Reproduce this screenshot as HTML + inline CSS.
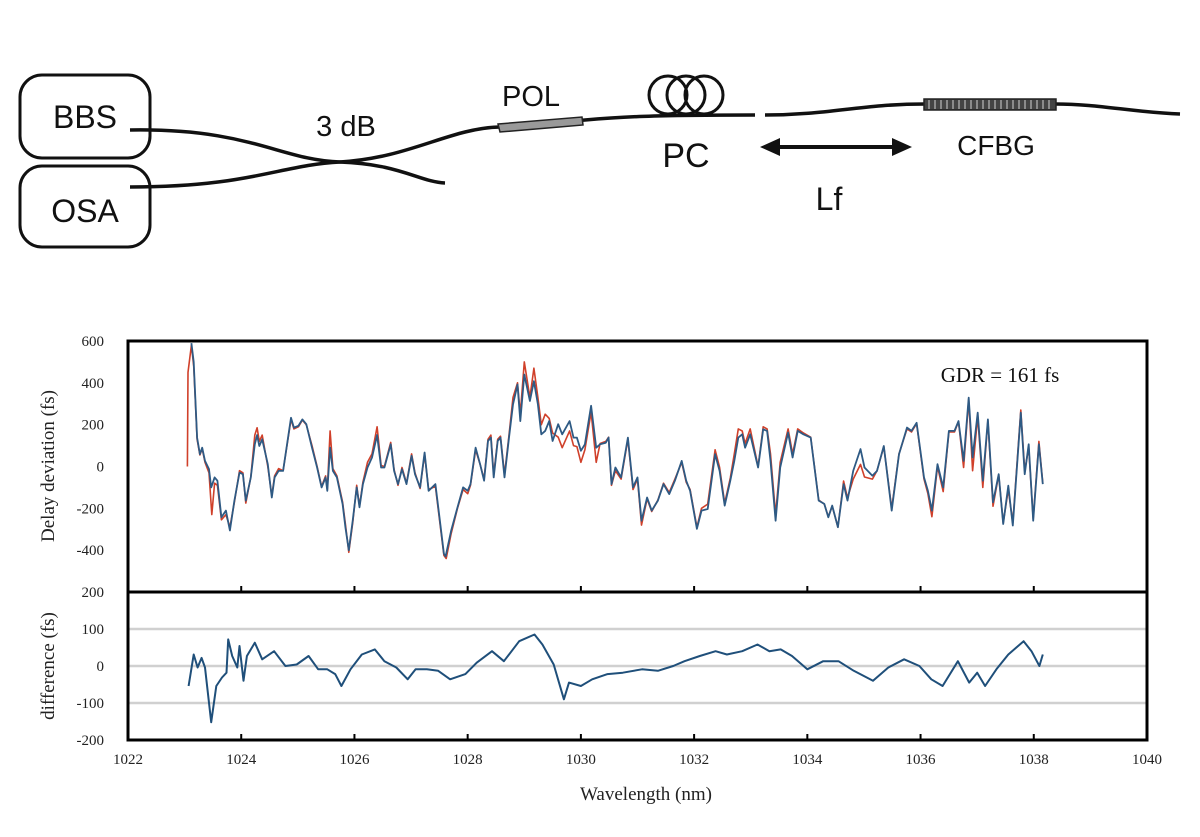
<!DOCTYPE html>
<html><head><meta charset="utf-8">
<style>
html,body{margin:0;padding:0;background:#fff;}
svg{display:block;}
</style></head>
<body>
<svg id="fig" width="1200" height="837" viewBox="0 0 1200 837" xmlns="http://www.w3.org/2000/svg">
<g id="diagram" font-family="'Liberation Sans', sans-serif" fill="none" stroke="#111">
  <rect x="20" y="75" width="130" height="83" rx="22" stroke-width="3"/>
  <rect x="20" y="166" width="130" height="81" rx="22" stroke-width="3"/>
  <path d="M130,130 C250,128 280,160 340,162 C400,164 420,182 445,183" stroke-width="3.5"/>
  <path d="M130,187 C250,187 280,165 340,162 C410,158 450,128 500,127 L585,120 C620,117 650,115 755,115" stroke-width="3.5"/>
  <path d="M498,124 L582,117 L583,125 L500,132 Z" fill="#999" stroke="#222" stroke-width="1.5"/>
  <g stroke-width="3">
    <circle cx="668" cy="95" r="19"/><circle cx="686" cy="95" r="19"/><circle cx="704" cy="95" r="19"/>
  </g>
  <path d="M765,115 C830,115 860,104 925,104 L1055,104 C1100,104 1130,112 1180,114" stroke-width="3.5"/>
  <rect x="924" y="99" width="132" height="11" fill="#444" stroke="#222" stroke-width="1.5"/>
  <g id="grating-lines" stroke="#bbb" stroke-width="1.2"></g>
  <path d="M775,147 L898,147" stroke-width="4"/>
  <path d="M760,147 L780,138 L780,156 Z M912,147 L892,138 L892,156 Z" fill="#111" stroke="none"/>
  <g fill="#111" stroke="none">
    <text x="85" y="128" font-size="32" text-anchor="middle">BBS</text>
    <text x="85" y="222" font-size="32" text-anchor="middle">OSA</text>
    <text x="346" y="136" font-size="29" text-anchor="middle">3 dB</text>
    <text x="531" y="106" font-size="29" text-anchor="middle">POL</text>
    <text x="686" y="167" font-size="34" text-anchor="middle">PC</text>
    <text x="996" y="155" font-size="28" text-anchor="middle">CFBG</text>
    <text x="829" y="210" font-size="32" text-anchor="middle">Lf</text>
  </g>
</g>
<g id="chart" font-family="'Liberation Serif', serif"></g>
</svg>
<script>
// ---- data ----
const wlBlue = [1023.12,1023.16,1023.22,1023.27,1023.31,1023.36,1023.43,1023.47,1023.53,1023.58,1023.65,1023.73,1023.8,1023.88,1023.97,1024.03,1024.08,1024.17,1024.24,1024.28,1024.32,1024.37,1024.47,1024.54,1024.59,1024.66,1024.74,1024.88,1024.93,1025.01,1025.08,1025.15,1025.25,1025.34,1025.42,1025.49,1025.52,1025.57,1025.62,1025.69,1025.79,1025.84,1025.9,1025.97,1026.04,1026.09,1026.15,1026.23,1026.31,1026.4,1026.47,1026.53,1026.64,1026.7,1026.77,1026.84,1026.92,1027.01,1027.07,1027.16,1027.24,1027.31,1027.43,1027.51,1027.58,1027.61,1027.71,1027.82,1027.92,1028.0,1028.05,1028.14,1028.22,1028.29,1028.36,1028.41,1028.46,1028.53,1028.58,1028.65,1028.73,1028.8,1028.88,1028.93,1029.0,1029.1,1029.17,1029.24,1029.3,1029.37,1029.44,1029.5,1029.6,1029.67,1029.8,1029.87,1029.93,1030.0,1030.07,1030.18,1030.27,1030.34,1030.44,1030.49,1030.54,1030.61,1030.71,1030.83,1030.92,1031.0,1031.07,1031.17,1031.25,1031.36,1031.46,1031.56,1031.66,1031.78,1031.86,1031.93,1032.05,1032.13,1032.24,1032.37,1032.45,1032.54,1032.64,1032.71,1032.78,1032.85,1032.9,1032.99,1033.13,1033.22,1033.29,1033.35,1033.44,1033.52,1033.66,1033.74,1033.83,1033.93,1034.06,1034.2,1034.3,1034.37,1034.44,1034.54,1034.64,1034.71,1034.81,1034.94,1035.01,1035.15,1035.23,1035.35,1035.49,1035.62,1035.76,1035.84,1035.93,1036.06,1036.13,1036.2,1036.3,1036.4,1036.5,1036.6,1036.67,1036.76,1036.85,1036.92,1037.01,1037.1,1037.19,1037.28,1037.38,1037.46,1037.55,1037.63,1037.77,1037.84,1037.91,1037.99,1038.09,1038.16];
const delayBlue = [590,500,138,59,90,27,-13,-100,-52,-68,-243,-211,-306,-163,-29,-37,-163,-52,106,150,98,130,11,-148,-52,-21,-21,233,186,194,225,202,90,-5,-100,-52,-116,90,-21,-52,-180,-290,-400,-259,-100,-195,-84,-5,43,150,-5,-5,106,-21,-84,-13,-84,51,-37,-100,67,-116,-84,-259,-417,-430,-306,-195,-100,-116,-84,90,11,-68,122,138,-52,122,138,-52,138,297,392,217,440,313,408,297,154,170,217,122,202,154,217,138,138,75,106,290,90,106,114,138,-84,-5,-52,138,-100,-52,-259,-148,-211,-163,-84,-132,-68,27,-68,-116,-298,-211,-203,59,-21,-187,-68,27,138,154,90,154,-5,178,170,27,-259,-5,162,43,170,154,138,-163,-179,-243,-187,-290,-84,-163,-21,83,-5,-44,-21,98,-211,59,186,170,209,-52,-116,-211,11,-100,170,170,217,27,329,43,257,-68,225,-171,-37,-275,-92,-282,257,-37,106,-259,106,-84];
const wlRed = [1023.05,1023.06,1023.12,1023.16,1023.22,1023.27,1023.31,1023.36,1023.43,1023.48,1023.53,1023.58,1023.65,1023.73,1023.8,1023.88,1023.97,1024.03,1024.08,1024.17,1024.24,1024.28,1024.32,1024.37,1024.47,1024.54,1024.59,1024.66,1024.74,1024.88,1024.93,1025.01,1025.08,1025.15,1025.25,1025.34,1025.42,1025.49,1025.52,1025.57,1025.62,1025.69,1025.79,1025.84,1025.9,1025.97,1026.04,1026.09,1026.15,1026.23,1026.31,1026.4,1026.47,1026.53,1026.64,1026.7,1026.77,1026.84,1026.92,1027.01,1027.07,1027.16,1027.24,1027.31,1027.43,1027.51,1027.58,1027.62,1027.71,1027.82,1027.92,1028.0,1028.05,1028.14,1028.22,1028.29,1028.36,1028.41,1028.46,1028.53,1028.58,1028.65,1028.73,1028.8,1028.88,1028.93,1029.0,1029.1,1029.17,1029.24,1029.3,1029.37,1029.44,1029.5,1029.6,1029.67,1029.8,1029.87,1029.93,1030.0,1030.07,1030.18,1030.27,1030.34,1030.44,1030.49,1030.54,1030.61,1030.71,1030.83,1030.92,1031.0,1031.07,1031.17,1031.25,1031.36,1031.46,1031.56,1031.66,1031.78,1031.86,1031.93,1032.05,1032.13,1032.24,1032.37,1032.45,1032.54,1032.64,1032.71,1032.78,1032.85,1032.9,1032.99,1033.13,1033.22,1033.29,1033.35,1033.44,1033.52,1033.66,1033.74,1033.83,1033.93,1034.06,1034.2,1034.3,1034.37,1034.44,1034.54,1034.64,1034.71,1034.81,1034.94,1035.01,1035.15,1035.23,1035.35,1035.49,1035.62,1035.76,1035.84,1035.93,1036.06,1036.13,1036.2,1036.3,1036.4,1036.5,1036.6,1036.67,1036.76,1036.85,1036.92,1037.01,1037.1,1037.19,1037.28,1037.38,1037.46,1037.55,1037.63,1037.77,1037.84,1037.91,1037.99,1038.09,1038.16];
const delayRed = [0,450,580,480,130,55,85,20,-30,-230,-80,-90,-255,-230,-290,-170,-20,-30,-175,-50,150,185,120,150,0,-140,-45,-10,-20,225,180,190,222,200,100,0,-95,-45,-110,170,-10,-45,-170,-275,-410,-270,-90,-190,-75,20,60,190,5,0,115,-15,-90,-5,-80,60,-30,-105,60,-110,-95,-270,-425,-440,-320,-200,-110,-130,-90,80,10,-60,130,150,-40,130,145,-40,150,330,400,250,500,330,470,330,200,250,230,160,140,90,170,100,95,20,80,260,20,110,120,140,-90,-20,-60,130,-110,-60,-280,-155,-215,-160,-80,-125,-60,20,-75,-110,-290,-200,-180,80,-5,-175,-55,60,180,170,110,180,0,190,180,60,-230,20,180,60,180,160,140,-160,-180,-240,-190,-290,-70,-150,-60,10,-50,-60,-20,95,-200,60,180,165,205,-60,-130,-240,0,-120,165,165,215,-5,320,-20,240,-100,220,-190,-40,-270,-110,-270,270,-20,90,-250,120,-80];
const wlDiff = [1023.07,1023.16,1023.23,1023.3,1023.36,1023.47,1023.56,1023.66,1023.74,1023.77,1023.84,1023.93,1023.97,1024.04,1024.1,1024.24,1024.37,1024.58,1024.78,1024.98,1025.19,1025.36,1025.52,1025.66,1025.77,1025.93,1026.13,1026.36,1026.53,1026.74,1026.94,1027.08,1027.28,1027.48,1027.69,1027.96,1028.16,1028.43,1028.64,1028.91,1029.18,1029.32,1029.52,1029.7,1029.79,1030.0,1030.2,1030.47,1030.74,1031.08,1031.36,1031.63,1031.83,1032.1,1032.38,1032.58,1032.85,1033.12,1033.33,1033.53,1033.73,1034.0,1034.28,1034.55,1034.82,1035.16,1035.43,1035.71,1035.98,1036.19,1036.39,1036.66,1036.86,1037.0,1037.14,1037.34,1037.55,1037.82,1037.96,1038.1,1038.16];
const diffValues = [-54,31,-4,22,-4,-152,-54,-31,-18,72,27,-4,54,-40,27,63,18,40,0,4,27,-9,-9,-22,-54,-9,31,45,13,-4,-36,-9,-9,-13,-36,-22,9,40,13,67,85,58,4,-90,-45,-54,-36,-22,-18,-9,-13,0,13,27,40,31,40,58,40,45,27,-9,13,13,-13,-40,-4,18,0,-36,-54,13,-45,-18,-54,-9,31,67,40,0,31];
const xTicks = [1022,1024,1026,1028,1030,1032,1034,1036,1038,1040];
const yTicksTop = [600,400,200,0,-200,-400];
const yTicksBottom = [200,100,0,-100,-200];

// ---- layout ----
const L=128,R=1147,T=341,MID=592,B=740;
const x = v => L + (v-1022)/(1040-1022)*(R-L);
const yTop = v => T + (600-v)/1200*(MID-T);
const yBot = v => MID + (200-v)/400*(B-MID);
const NS="http://www.w3.org/2000/svg";
const chart=document.getElementById('chart');
function mk(tag,attrs,parent){const e=document.createElementNS(NS,tag);for(const k in attrs)e.setAttribute(k,attrs[k]);(parent||chart).appendChild(e);return e;}

// grating lines
const gl=document.getElementById('grating-lines');
for(let gx=929;gx<1054;gx+=6){mk('line',{x1:gx,y1:100,x2:gx,y2:109},gl);}

// gridlines lower
[100,0,-100].forEach(v=>{
  const g=mk('line',{x1:L,x2:R,y1:yBot(v),y2:yBot(v),stroke:'#d0d0d0','stroke-width':2.5});
  
  
});

// series paths
function line(xs,ys,yf,color,w,name){
  const d=xs.map((v,i)=>(i?'L':'M')+x(v).toFixed(1)+','+yf(ys[i]).toFixed(1)).join(' ');
  const p=mk('path',{d:d,fill:'none',stroke:color,'stroke-width':w,'stroke-linejoin':'round'});
  
  
}
line(wlRed,delayRed,yTop,'#d0402a',1.6,'series-red');
line(wlBlue,delayBlue,yTop,'#2e5a84',1.8,'series-blue');
line(wlDiff,diffValues,yBot,'#1f4f7a',2,'difference-series');

// frames
const f1=mk('rect',{x:L,y:T,width:R-L,height:MID-T,fill:'none',stroke:'#000','stroke-width':3});


const f2=mk('rect',{x:L,y:MID,width:R-L,height:B-MID,fill:'none',stroke:'#000','stroke-width':3});



// x ticks & labels
xTicks.forEach(v=>{
  if(v>1022&&v<1040){
    mk('line',{x1:x(v),x2:x(v),y1:MID,y2:MID-6,stroke:'#000','stroke-width':2});
    mk('line',{x1:x(v),x2:x(v),y1:B,y2:B-6,stroke:'#000','stroke-width':2});
  }
  const t=mk('text',{x:x(v),y:764,'font-size':15,'text-anchor':'middle',fill:'#222'});
  t.textContent=v;
  
  
});
yTicksTop.forEach(v=>{
  const t=mk('text',{x:104,y:yTop(v)+5,'font-size':15,'text-anchor':'end',fill:'#222'});
  t.textContent=v===0?'0':(v<0?'-'+(-v):v);
  
  
});
yTicksBottom.forEach(v=>{
  const t=mk('text',{x:104,y:yBot(v)+5,'font-size':15,'text-anchor':'end',fill:'#222'});
  t.textContent=v===0?'0':(v<0?'-'+(-v):v);
  
  
});
let t;
t=mk('text',{x:0,y:0,'font-size':19,'text-anchor':'middle',fill:'#222',transform:'translate(54,466) rotate(-90)'});
t.textContent='Delay deviation (fs)';


t=mk('text',{x:0,y:0,'font-size':19,'text-anchor':'middle',fill:'#222',transform:'translate(54,666) rotate(-90)'});
t.textContent='difference (fs)';


t=mk('text',{x:646,y:800,'font-size':19,'text-anchor':'middle',fill:'#222'});
t.textContent='Wavelength (nm)';


t=mk('text',{x:1000,y:382,'font-size':21,'text-anchor':'middle',fill:'#111'});
t.textContent='GDR = 161 fs';


</script>
</body></html>
